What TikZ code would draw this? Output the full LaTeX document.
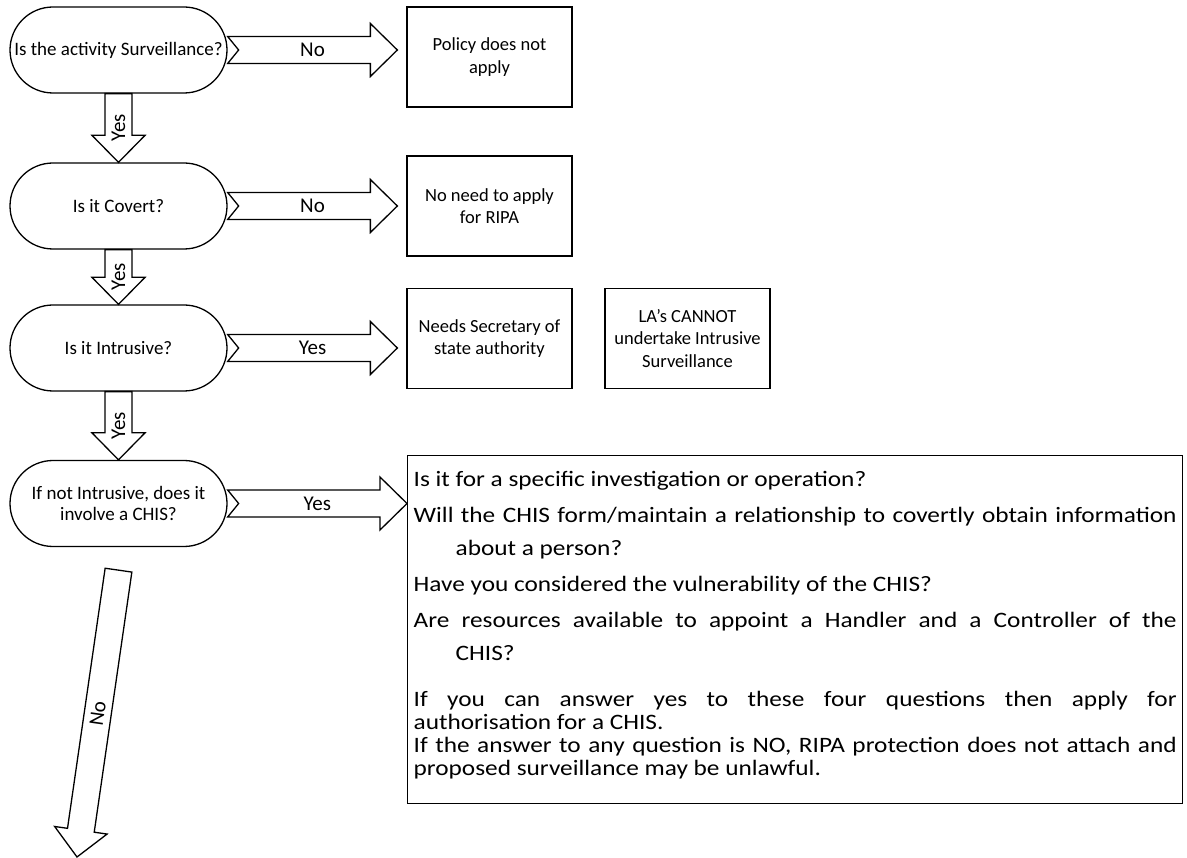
\documentclass[tikz,border=0pt]{standalone}
\usepackage{fontspec}
\setmainfont{Carlito}
\newfontfamily\widefont[FakeStretch=1.15]{Carlito}
\usetikzlibrary{calc}

% block arrow: [notch]{label name}{from}{to}{label angle}{label}
\newcommand{\blkarrow}[6][0pt]{%
  \draw[barr] let \p1=(#3), \p2=(#4),
      \n1={atan2(\y2-\y1,\x2-\x1)}, \n2={veclen(\x2-\x1,\y2-\y1)} in
    ($(\p1)+(\n1+90:13.5pt)$)
    -- ($(\p1)+(\n1:\n2-27pt)+(\n1+90:13.5pt)$)
    -- ($(\p1)+(\n1:\n2-27pt)+(\n1+90:26.5pt)$)
    -- (\p2)
    -- ($(\p1)+(\n1:\n2-27pt)+(\n1-90:26.5pt)$)
    -- ($(\p1)+(\n1:\n2-27pt)+(\n1-90:13.5pt)$)
    -- ($(\p1)+(\n1-90:13.5pt)$)
    -- ($(\p1)+(\n1:#1)$) -- cycle;
  \node[arrlbl, rotate=#5] (#2) at ($(#3)!0.5!(#4)$) {#6};}

\begin{document}
\begin{tikzpicture}[x=1pt, y=-1pt,
    term/.style={draw, line width=1.3pt, fill=white, rounded corners=43pt,
      minimum width=217pt, minimum height=86pt, inner sep=1pt,
      align=center, font=\fontsize{19}{21}\selectfont},
    res/.style={draw, line width=1.3pt, fill=white,
      minimum width=165pt, minimum height=100pt,
      align=center, font=\fontsize{18.5}{22.5}\selectfont},
    chkbox/.style={draw, line width=1.3pt, anchor=north west,
      inner xsep=6pt, inner ysep=4pt},
    barr/.style={line width=1.3pt, fill=white, line join=miter},
    arrlbl/.style={font=\fontsize{21}{24}\selectfont, inner sep=0pt}]
  \useasboundingbox (0,0) rectangle (1187,858);
  % === Questions ===
  \node[term] (t1) at (118.5,50)    {Is the activity Surveillance?};
  \node[term] (t2) at (118.5,206)   {Is it Covert?};
  \node[term] (t3) at (118.5,348)   {Is it Intrusive?};
  \node[term] (t4) at (118.5,503.5) {If not Intrusive, does it\\involve a CHIS?};
  % === Outcomes ===
  \node[res] (pol) at (489.5,57)    {Policy does not\\apply};
  \node[res] (nrp) at (489.5,206)   {No need to apply\\for RIPA};
  \node[res] (sec) at (489.5,338.5) {Needs Secretary of\\state authority};
  \node[res] (lac) at (687.5,338.5) {LA's CANNOT\\undertake Intrusive\\Surveillance};
  % === CHIS checklist ===
  \node[chkbox] (chk) at (407,455) {\begin{minipage}[t][340pt][t]{763pt}
    \setlength\parindent{0pt}\setlength\parskip{3pt}%
    \widefont\fontsize{22}{33}\selectfont
    \rule{0pt}{27pt}Is it for a specific investigation or operation?\par
    \hangindent=42pt\hangafter=1
    Will the CHIS form/maintain a relationship to covertly obtain information\linebreak about a person?\par
    Have you considered the vulnerability of the CHIS?\par
    \hangindent=42pt\hangafter=1
    Are resources available to appoint a Handler and a Controller of the\linebreak CHIS?\par
    \setlength\parskip{0pt}\fontsize{22}{23}\selectfont
    \vspace{23pt}
    If you can answer yes to these four questions then apply for\linebreak authorisation for a CHIS.\par
    If the answer to any question is NO, RIPA protection does not attach and\linebreak proposed surveillance may be unlawful.\par
  \end{minipage}};
  % === Arrow ends ===
  \coordinate (tip1) at ($(t1.east -| pol.west)+(-9,0)$);
  \coordinate (tip2) at ($(t2.east -| nrp.west)+(-9,0)$);
  \coordinate (tip3) at ($(t3.east -| sec.west)+(-9,0)$);
  \coordinate (tip4) at (t4.east -| chk.west);
  \coordinate (nstart) at ($(t4.south)+(0,23)$);
  \coordinate (nend) at (77,857);
  % === Arrows ===
  \blkarrow[11pt]{l1}{t1.east}{tip1}{0}{No}
  \blkarrow[11pt]{l2}{t2.east}{tip2}{0}{No}
  \blkarrow[11pt]{l3}{t3.east}{tip3}{0}{Yes}
  \blkarrow[11pt]{l4}{t4.east}{tip4}{0}{Yes}
  \blkarrow{y1}{t1.south}{t2.north}{90}{Yes}
  \blkarrow{y2}{t2.south}{t3.north}{90}{Yes}
  \blkarrow{y3}{t3.south}{t4.north}{90}{Yes}
  \blkarrow{n4}{nstart}{nend}{81.9}{No}
\end{tikzpicture}
\end{document}
